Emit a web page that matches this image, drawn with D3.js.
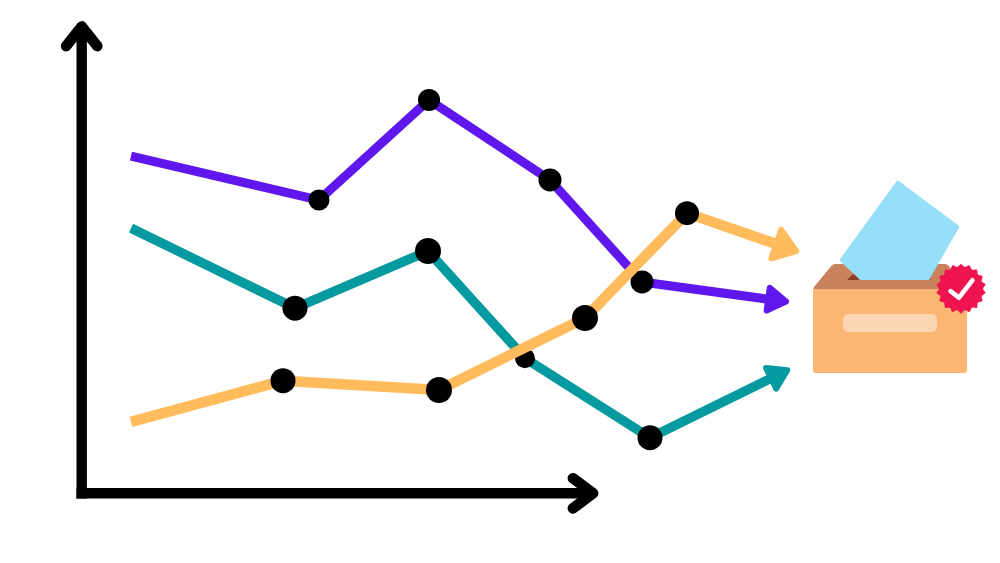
<!DOCTYPE html>
<html><head><meta charset="utf-8">
<script src="https://cdn.jsdelivr.net/npm/d3@7/dist/d3.min.js"></script>
<style>html,body{margin:0;padding:0;background:#fff}svg{display:block}</style>
</head><body><svg id="c" width="1000" height="563"></svg>
<script>
// Values (axis units: x 0-103, y 0-100; unlabelled axes)
const steps_purple = [10, 47.6, 69.6, 93.8, 112.2, 141.6];
const values_purple = [72, 62.6, 84, 66.9, 45.1, 40.8];
const steps_teal = [10, 42.8, 69.4, 88.8, 113.8, 141.8];
const values_teal = [56.6, 39.5, 51.7, 28.8, 11.8, 26.5];
const steps_orange = [10, 40.4, 71.6, 100.8, 121.2, 143.6];
const values_orange = [15.2, 24, 22, 37.4, 59.8, 51.5];

const svg = d3.select("#c");
const x = d3.scaleLinear().domain([0, 103]).range([81, 596]);
const y = d3.scaleLinear().domain([0, 100]).range([493, 25]);

const series = [
  {xs: steps_purple, ys: values_purple, color: "#5f17ee", w: 9,   hl: 18, hw: 11.5, r: [10.5, 11, 11.5, 11.5]},
  {xs: steps_teal,   ys: values_teal,   color: "#059a9f", w: 9.5, hl: 18, hw: 11.5, r: [12.5, 13, 10, 12.5]},
  {xs: steps_orange, ys: values_orange, color: "#ffbb5c", w: 10.5, hl: 21, hw: 15, r: [12.5, 13, 13, 12]}
];

// Axes
const axisG = svg.append("g");
const axisX = 81.7, axisY = 493.3;
const xAxisScale = d3.scaleLinear().domain([-1, 102]).range([axisX - 5.2, x(102)]);
const yAxisScale = d3.scaleLinear().domain([-1.07, 99]).range([axisY + 5.2, y(99)]);
axisG.append("g").attr("transform", `translate(0,${axisY})`)
  .call(d3.axisBottom(xAxisScale).tickValues([]).tickSize(0).offset(0));
axisG.append("g").attr("transform", `translate(${axisX},0)`)
  .call(d3.axisLeft(yAxisScale).tickValues([]).tickSize(0).offset(0));
axisG.selectAll(".domain").attr("stroke", "#000").attr("stroke-width", 10.4).attr("stroke-linecap", "butt");
const chev = d3.line();
axisG.append("path").attr("d", chev([[axisX - 15.5, 46], [axisX, y(100) + 1.5], [axisX + 15.5, 46]]))
  .attr("fill", "none").attr("stroke", "#000").attr("stroke-width", 10.8)
  .attr("stroke-linecap", "round").attr("stroke-linejoin", "round");
axisG.append("path").attr("d", chev([[573, axisY - 15], [x(102.4), axisY], [573, axisY + 15]]))
  .attr("fill", "none").attr("stroke", "#000").attr("stroke-width", 10.8)
  .attr("stroke-linecap", "round").attr("stroke-linejoin", "round");

// Series
const line = d3.line().x(d => x(d[0])).y(d => y(d[1]));
series.forEach(s => {
  const pts = s.xs.map((v, i) => [v, s.ys[i]]);
  const g = svg.append("g");
  const a = pts[pts.length - 2], b = pts[pts.length - 1];
  const ax = x(a[0]), ay = y(a[1]), bx = x(b[0]), by = y(b[1]);
  const len = Math.hypot(bx - ax, by - ay), ux = (bx - ax) / len, uy = (by - ay) / len;
  g.append("path").attr("d", line(pts.slice(0, -1)) + `L${bx - ux * 12},${by - uy * 12}`).attr("fill", "none")
    .attr("stroke", s.color).attr("stroke-width", s.w).attr("stroke-linejoin", "round");
  const tip = 3;
  const head = [
    [bx - ux * tip, by - uy * tip],
    [bx - ux * (tip + s.hl) - uy * s.hw, by - uy * (tip + s.hl) + ux * s.hw],
    [bx - ux * (tip + s.hl) + uy * s.hw, by - uy * (tip + s.hl) - ux * s.hw]
  ];
  g.append("path").attr("d", d3.line()(head) + "Z").attr("fill", s.color)
    .attr("stroke", s.color).attr("stroke-width", 6).attr("stroke-linejoin", "round");
  g.selectAll("circle").data(pts.slice(1, -1)).join("circle")
    .attr("cx", d => x(d[0])).attr("cy", d => y(d[1]))
    .attr("r", (d, i) => s.r[i]).attr("fill", "#000");
});

// Ballot box icon
const icon = svg.append("g");
const rl = d3.line();
icon.append("path").attr("d", rl([[818, 289], [835, 268.5], [945, 268.5], [962, 289]]) + "Z")
  .attr("fill", "#c9825c").attr("stroke", "#c9825c").attr("stroke-width", 9).attr("stroke-linejoin", "round");
icon.append("path").attr("d", rl([[847, 280], [855, 272], [925, 272], [931, 280]]) + "Z").attr("fill", "#8f3f1f");
icon.append("rect").attr("x", 813).attr("y", 290).attr("width", 154).attr("height", 83).attr("rx", 3).attr("fill", "#fbb674");
icon.append("rect").attr("x", 813).attr("y", 289).attr("width", 154).attr("height", 10).attr("fill", "#fbb674");
icon.append("rect").attr("x", 843).attr("y", 314).attr("width", 94).attr("height", 18).attr("rx", 5).attr("fill", "#fbd6b3");
icon.append("clipPath").attr("id", "slot").append("rect").attr("x", 820).attr("y", 170).attr("width", 150).attr("height", 110);
icon.append("path").attr("clip-path", "url(#slot)")
  .attr("d", rl([[842.5, 260], [898, 183.5], [956.5, 227], [925, 282], [866, 282]]) + "Z")
  .attr("fill", "#97dff9").attr("stroke", "#97dff9").attr("stroke-width", 5).attr("stroke-linejoin", "round");
// Badge
const bumps = 18;
const radial = d3.lineRadial().curve(d3.curveCatmullRomClosed.alpha(0.5));
const badgePts = d3.range(bumps * 2).map(i => [i * Math.PI / bumps, i % 2 ? 22 : 24.8]);
const badge = icon.append("g").attr("transform", "translate(961,288.7)");
badge.append("path").attr("d", radial(badgePts)).attr("fill", "#ef1350");
badge.append("path").attr("d", d3.line()([[-10.5, 2.5], [-2, 9], [11.5, -8.5]]))
  .attr("fill", "none").attr("stroke", "#fff").attr("stroke-width", 4.6)
  .attr("stroke-linecap", "round").attr("stroke-linejoin", "round");
</script></body></html>
